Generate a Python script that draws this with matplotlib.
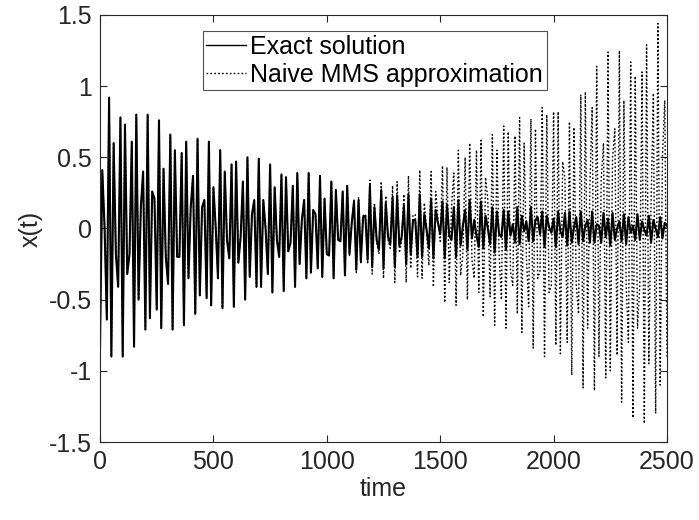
import matplotlib
matplotlib.use("Agg")
import matplotlib.pyplot as plt
import numpy as np

# sample spacing of the plotted solutions (time units)
dt = 10

# exact solution, one value per sample from t=0 to t=2500
exact = [
    -0.83, 0.41, 0.01, -0.64, 0.92, -0.90, 0.60, -0.18, -0.41, 0.78,
    -0.90, 0.73, -0.32, -0.18, 0.61, -0.83, 0.80, -0.50, 0.15, 0.40,
    -0.71, 0.80, -0.63, 0.26, 0.21, -0.57, 0.76, -0.70, 0.42, -0.20,
    -0.39, 0.66, -0.71, 0.55, -0.20, -0.20, 0.53, -0.68, 0.61, -0.35,
    0.15, 0.37, -0.60, 0.63, -0.47, 0.15, 0.20, -0.49, 0.61, -0.54,
    0.29, 0.01, -0.35, 0.55, -0.56, 0.40, -0.08, -0.21, 0.45, -0.55,
    0.47, -0.24, -0.06, 0.33, -0.50, 0.50, -0.34, 0.10, 0.20, -0.41,
    0.49, -0.41, 0.20, 0.00, -0.32, 0.45, -0.45, 0.29, -0.08, -0.20,
    0.38, -0.44, 0.36, -0.16, -0.10, 0.30, -0.41, 0.39, -0.25, 0.06,
    0.20, -0.35, 0.39, -0.31, 0.13, 0.10, -0.28, 0.37, -0.34, 0.21,
    -0.18, -0.19, 0.33, -0.35, 0.27, -0.08, -0.09, 0.26, -0.33, 0.30,
    -0.18, 0.04, 0.19, -0.29, 0.20, -0.23, 0.08, 0.09, -0.22, 0.30,
    -0.27, 0.15, -0.08, -0.15, 0.27, -0.28, 0.18, -0.06, -0.11, 0.22,
    -0.27, 0.23, -0.12, -0.06, 0.16, -0.25, 0.24, -0.18, 0.06, 0.06,
    -0.20, 0.24, -0.20, 0.10, -0.01, -0.14, 0.21, -0.21, 0.13, 0.04,
    -0.04, 0.19, -0.21, 0.17, -0.05, -0.08, 0.15, -0.20, 0.20, -0.12,
    0.02, 0.13, -0.15, 0.20, -0.07, 0.06, -0.05, -0.13, 0.19, -0.14,
    0.09, 0.00, -0.11, 0.15, -0.17, 0.12, -0.04, -0.06, 0.13, -0.15,
    0.12, -0.05, 0.03, -0.10, 0.15, -0.11, 0.09, -0.02, 0.05, -0.09,
    0.15, -0.09, 0.06, 0.08, -0.04, 0.12, -0.13, 0.09, 0.01, -0.03,
    0.07, -0.13, 0.12, -0.02, -0.06, 0.11, -0.12, 0.12, -0.10, 0.01,
    0.08, -0.11, 0.12, -0.09, 0.02, 0.06, -0.10, 0.12, -0.10, 0.03,
    0.02, -0.10, 0.11, -0.06, 0.07, -0.12, 0.11, -0.08, 0.00, 0.05,
    -0.09, 0.10, -0.11, 0.08, -0.03, 0.02, -0.08, 0.10, -0.08, 0.05,
    -0.01, -0.05, 0.09, -0.10, 0.06, 0.00, -0.06, 0.08, -0.07, 0.04,
    0.02,
]

# naive MMS approximation from t=1000 on (before that it sits on the exact curve)
mms_start = 1000
mms_late = [
    -0.18, -0.19, 0.33, -0.35, 0.27, -0.08, -0.09, 0.26, -0.33, 0.30,
    -0.19, 0.04, 0.20, -0.31, 0.22, -0.25, 0.09, 0.10, -0.25, 0.34,
    -0.32, 0.18, -0.10, -0.18, 0.33, -0.35, 0.23, -0.08, -0.14, 0.30,
    -0.38, 0.33, -0.17, -0.09, 0.24, -0.38, 0.37, -0.28, 0.09, 0.10,
    -0.34, 0.41, -0.35, 0.18, -0.02, -0.26, 0.40, -0.41, 0.26, 0.07,
    -0.09, 0.44, -0.52, 0.43, -0.38, 0.15, 0.39, -0.54, 0.55, -0.33,
    -0.18, 0.50, -0.50, 0.60, -0.22, -0.35, 0.55, -0.45, 0.62, -0.62,
    0.36, 0.20, -0.48, 0.66, -0.68, 0.55, -0.19, -0.50, 0.72, -0.70,
    0.68, -0.30, -0.40, 0.65, -0.60, 0.78, -0.73, 0.60, -0.20, -0.55,
    0.77, -0.84, 0.70, -0.35, -0.30, 0.85, -0.90, 0.80, -0.45, -0.40,
    0.82, -0.82, 0.82, -0.88, 0.47, 0.35, -0.80, 0.75, -1.03, 0.71,
    -0.40, -0.60, 0.94, -1.12, 0.96, -0.70, 0.30, 0.85, -1.14, 1.14,
    -0.90, 0.35, 0.60, -1.05, 1.24, -1.00, 0.50, 0.70, -0.89, 1.25,
    -1.22, 0.90, -0.40, -0.80, 1.17, -1.33, 1.07, -0.70, -0.40, 1.10,
    -1.37, 1.29, -0.95, 0.20, 0.95, -1.30, 1.44, -1.10, 0.50, 0.90,
    -0.90,
]

x_ticks = [0, 500, 1000, 1500, 2000, 2500]
y_ticks = [-1.5, -1, -0.5, 0, 0.5, 1, 1.5]

plt.rcParams['font.family'] = ['Liberation Sans', 'DejaVu Sans']
plt.rcParams['axes.unicode_minus'] = False

dark = (0.15, 0.15, 0.15)

t = np.arange(len(exact)) * dt
n_early = mms_start // dt
mms = np.array(exact[:n_early] + mms_late)

fig = plt.figure(figsize=(6.99, 5.2), dpi=100)
ax = fig.add_axes([0.1431, 0.15, 0.8111, 0.8212])

ax.plot(t, exact, color='k', linewidth=1.5, label='Exact solution')
ax.plot(t[:len(mms)], mms, color='k', linewidth=1.0, linestyle=(0, (1.2, 1.6)),
        label='Naive MMS approximation')

ax.set_xlim(0, 2500)
ax.set_ylim(-1.5, 1.5)
ax.set_xticks(x_ticks)
ax.set_yticks(y_ticks)
ax.set_yticklabels(['%g' % v for v in y_ticks])
ax.tick_params(direction='in', length=5, width=0.8, top=True, right=True,
               labelsize=18, colors=dark, pad=6)
for s in ax.spines.values():
    s.set_color(dark)
    s.set_linewidth(0.8)

ax.set_xlabel('time', fontsize=18, color=dark, labelpad=2)
ax.set_ylabel('x(t)', fontsize=18, color=dark, labelpad=4)

leg = ax.legend(loc='upper left', bbox_to_anchor=(0.181, 0.962), fontsize=18,
                frameon=True, fancybox=False, borderaxespad=0, borderpad=0.15,
                handlelength=1.6, handletextpad=0.15, labelspacing=0.15)
leg.get_frame().set_edgecolor(dark)
leg.get_frame().set_linewidth(0.8)
for line in leg.get_lines():
    line.set_linewidth(1.0)

fig.savefig('out.png', dpi=100)
